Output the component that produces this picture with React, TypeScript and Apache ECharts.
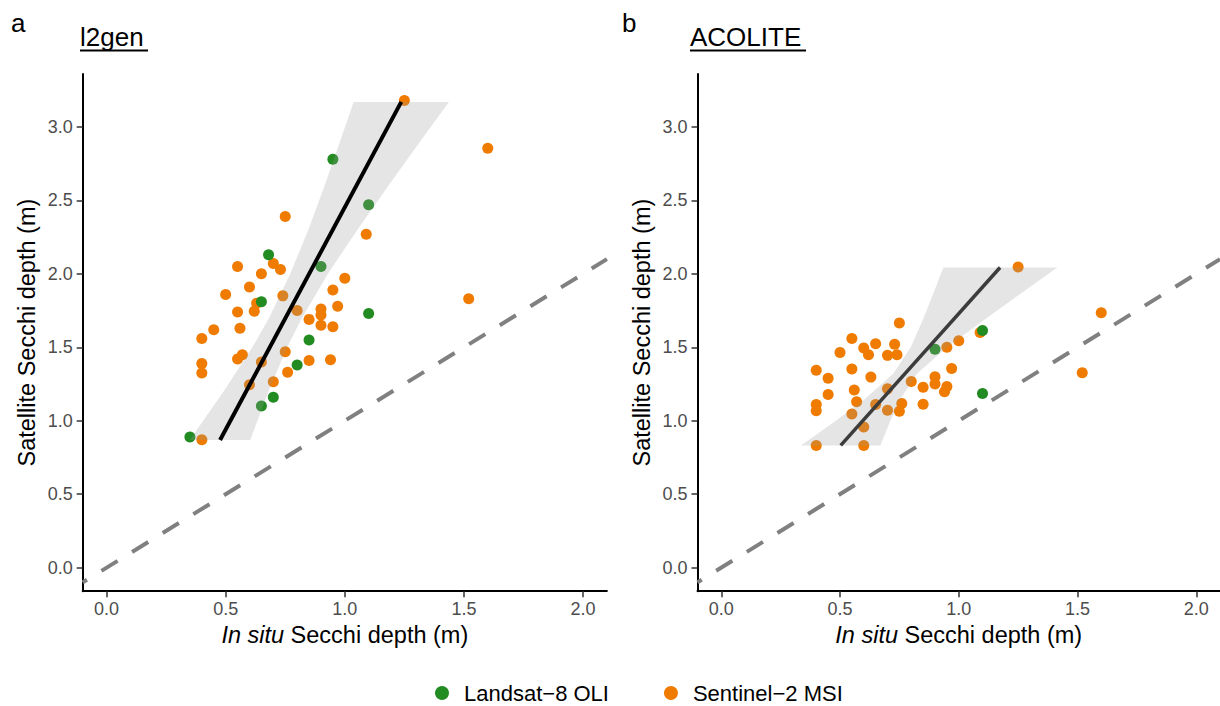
import React, { useEffect, useRef } from "react";
import * as echarts from "echarts";

const FONT = "'Liberation Sans', Arial, Helvetica, sans-serif";

// ---- axis ticks ----
const xTicks = [0, 0.5, 1.0, 1.5, 2.0];
const yTicks = [0, 0.5, 1.0, 1.5, 2.0, 2.5, 3.0];

// ---- panel a: l2gen ----
const l2genLandsatX = [0.95, 0.68, 0.90, 1.10, 0.65, 0.85, 0.80, 0.70, 0.65, 0.35, 1.10];
const l2genLandsatY = [2.78, 2.13, 2.05, 2.47, 1.81, 1.55, 1.38, 1.16, 1.10, 0.89, 1.73];
const l2genSentinelX = [0.75, 0.55, 0.70, 0.73, 0.65, 1.00, 1.25, 1.60, 1.09, 0.60, 0.50, 0.95, 0.74, 0.63, 0.62, 0.55, 0.97, 0.80, 0.90, 0.90, 0.85, 0.90, 0.95, 0.45, 0.56, 0.40, 0.75, 0.57, 0.55, 0.85, 0.94, 0.65, 0.40, 0.40, 0.76, 0.70, 0.60, 0.40, 1.52];
const l2genSentinelY = [2.39, 2.05, 2.07, 2.03, 2.00, 1.97, 3.18, 2.855, 2.27, 1.91, 1.86, 1.89, 1.85, 1.80, 1.745, 1.74, 1.78, 1.75, 1.76, 1.72, 1.69, 1.65, 1.64, 1.62, 1.63, 1.56, 1.47, 1.45, 1.42, 1.41, 1.415, 1.40, 1.39, 1.325, 1.33, 1.265, 1.245, 0.87, 1.83];
const l2genFitX = [0.4765, 1.237];
const l2genFitY = [0.869, 3.17];
const l2genBandY = [0.869, 1.2, 1.5, 1.7, 2.0, 2.3, 2.6, 2.9, 3.17];
const l2genBandLo = [0.349, 0.492, 0.612, 0.682, 0.771, 0.847, 0.915, 0.980, 1.037];
const l2genBandHi = [0.603, 0.680, 0.758, 0.820, 0.929, 1.053, 1.183, 1.316, 1.437];

// ---- panel b: ACOLITE ----
const acoLandsatX = [0.90, 1.10, 1.10];
const acoLandsatY = [1.487, 1.615, 1.185];
const acoSentinelX = [0.75, 0.55, 0.65, 0.60, 0.62, 0.73, 0.70, 0.74, 0.50, 0.95, 1.00, 0.40, 0.55, 0.45, 0.63, 0.80, 0.97, 0.90, 0.90, 0.85, 0.95, 0.94, 0.45, 0.56, 0.70, 0.40, 0.40, 0.57, 0.65, 0.76, 0.75, 0.70, 0.85, 0.55, 0.60, 0.40, 0.60, 1.25, 1.60, 1.09, 1.52];
const acoSentinelY = [1.665, 1.56, 1.524, 1.495, 1.45, 1.52, 1.445, 1.449, 1.465, 1.50, 1.545, 1.343, 1.352, 1.29, 1.297, 1.267, 1.356, 1.30, 1.25, 1.228, 1.233, 1.198, 1.178, 1.21, 1.217, 1.111, 1.068, 1.129, 1.11, 1.117, 1.065, 1.072, 1.112, 1.046, 0.957, 0.832, 0.832, 2.046, 1.735, 1.60, 1.327];
const acoFitX = [0.503, 1.174];
const acoFitY = [0.832, 2.043];
const acoBandY = [0.832, 1.0, 1.15, 1.32, 1.5, 1.7, 1.9, 2.043];
const acoBandLo = [0.336, 0.482, 0.606, 0.724, 0.798, 0.852, 0.901, 0.935];
const acoBandHi = [0.670, 0.712, 0.755, 0.824, 0.950, 1.118, 1.291, 1.415];

const oneToOne = [-0.1, 2.1];

const GREEN = "#228B22";
const ORANGE = "#EF7B00";
const LANDSAT = "Landsat\u22128 OLI";
const SENTINEL = "Sentinel\u22122 MSI";

const zip = (xs: number[], ys: number[]) => xs.map((x, i) => [x, ys[i]]);

function bandSeries(idx: number, ys: number[], lo: number[], hi: number[]) {
  return {
    type: "custom",
    xAxisIndex: idx,
    yAxisIndex: idx,
    silent: true,
    z: 3,
    data: zip(lo, ys),
    encode: { x: 0, y: 1 },
    renderItem: (params: any, api: any) => {
      if (params.dataIndex !== 0) return null;
      const pts: number[][] = [];
      for (let i = 0; i < ys.length; i++) pts.push(api.coord([lo[i], ys[i]]));
      for (let i = ys.length - 1; i >= 0; i--) pts.push(api.coord([hi[i], ys[i]]));
      return {
        type: "polygon",
        shape: { points: pts },
        style: { fill: "rgba(153,153,153,0.26)", stroke: null },
      };
    },
  };
}

function xAxisCfg(idx: number) {
  return {
    type: "value",
    gridIndex: idx,
    min: -0.1,
    max: 2.1,
    axisLine: { show: true, onZero: false, lineStyle: { color: "#000", width: 2 } },
    axisTick: { show: true, length: 6, customValues: xTicks, lineStyle: { color: "#333", width: 1.5 } },
    axisLabel: {
      customValues: xTicks,
      formatter: (v: number) => v.toFixed(1),
      fontSize: 18,
      color: "#4d4d4d",
      margin: 9,
      fontFamily: FONT,
    },
    splitLine: { show: false },
    name: "{i|In situ} Secchi depth (m)",
    nameLocation: "middle",
    nameGap: 30,
    nameTextStyle: {
      fontSize: 23.5,
      color: "#000",
      fontFamily: FONT,
      rich: { i: { fontStyle: "italic", fontSize: 23.5, color: "#000", fontFamily: FONT } },
    },
  };
}

function yAxisCfg(idx: number) {
  return {
    type: "value",
    gridIndex: idx,
    min: -0.16,
    max: 3.36,
    axisLine: { show: true, onZero: false, lineStyle: { color: "#000", width: 2 } },
    axisTick: { show: true, length: 6, customValues: yTicks, lineStyle: { color: "#333", width: 1.5 } },
    axisLabel: {
      customValues: yTicks,
      formatter: (v: number) => v.toFixed(1),
      fontSize: 18,
      color: "#4d4d4d",
      margin: 10,
      fontFamily: FONT,
    },
    splitLine: { show: false },
    name: "Satellite Secchi depth (m)",
    nameLocation: "middle",
    nameGap: 44,
    nameTextStyle: { fontSize: 23.5, color: "#000", fontFamily: FONT },
  };
}

export default function App() {
  const ref = useRef<HTMLDivElement>(null);
  useEffect(() => {
    if (!ref.current) return;
    const chart = echarts.init(ref.current, null, { renderer: "svg" });
    const dashed = (idx: number) => ({
      type: "line",
      xAxisIndex: idx,
      yAxisIndex: idx,
      data: zip(oneToOne, oneToOne),
      symbol: "none",
      silent: true,
      z: 1,
      lineStyle: { color: "#808080", width: 4, type: [19, 17], dashOffset: 14, cap: "butt" },
    });
    const scatter = (idx: number, name: string, xs: number[], ys: number[], color: string) => ({
      type: "scatter",
      name,
      xAxisIndex: idx,
      yAxisIndex: idx,
      data: zip(xs, ys),
      symbolSize: 11,
      itemStyle: { color, opacity: 1 },
      z: 2,
    });
    const fit = (idx: number, xs: number[], ys: number[], color: string, width: number) => ({
      type: "line",
      xAxisIndex: idx,
      yAxisIndex: idx,
      data: zip(xs, ys),
      symbol: "none",
      silent: true,
      z: 4,
      lineStyle: { color, width, cap: "butt" },
    });
    chart.setOption({
      animation: false,
      backgroundColor: "#fff",
      textStyle: { fontFamily: FONT },
      grid: [
        { left: 82.7, top: 74, width: 524.2, height: 517.2 },
        { left: 697.5, top: 74, width: 524.2, height: 517.2 },
      ],
      xAxis: [xAxisCfg(0), xAxisCfg(1)],
      yAxis: [yAxisCfg(0), yAxisCfg(1)],
      legend: {
        data: [
          { name: LANDSAT, icon: "circle" },
          { name: SENTINEL, icon: "circle" },
        ],
        left: 430,
        top: 677,
        itemWidth: 14,
        itemHeight: 14,
        itemGap: 55,
        selectedMode: false,
        textStyle: { fontSize: 22, color: "#000", fontFamily: FONT, padding: [0, 0, 0, 10] },
      },
      graphic: [
        { type: "text", left: 11, top: 10, style: { text: "a", font: `26px ${FONT}`, fill: "#000" } },
        { type: "text", left: 622, top: 10, style: { text: "b", font: `26px ${FONT}`, fill: "#000" } },
        { type: "text", left: 80, top: 24, style: { text: "l2gen", font: `26px ${FONT}`, fill: "#000" } },
        { type: "line", shape: { x1: 80, y1: 50.5, x2: 148, y2: 50.5 }, style: { stroke: "#000", lineWidth: 2 } },
        { type: "text", left: 690, top: 24, style: { text: "ACOLITE", font: `26px ${FONT}`, fill: "#000" } },
        { type: "line", shape: { x1: 690, y1: 50.5, x2: 806, y2: 50.5 }, style: { stroke: "#000", lineWidth: 2 } },
      ],
      series: [
        dashed(0),
        dashed(1),
        scatter(0, SENTINEL, l2genSentinelX, l2genSentinelY, ORANGE),
        scatter(0, LANDSAT, l2genLandsatX, l2genLandsatY, GREEN),
        scatter(1, SENTINEL, acoSentinelX, acoSentinelY, ORANGE),
        scatter(1, LANDSAT, acoLandsatX, acoLandsatY, GREEN),
        bandSeries(0, l2genBandY, l2genBandLo, l2genBandHi),
        bandSeries(1, acoBandY, acoBandLo, acoBandHi),
        fit(0, l2genFitX, l2genFitY, "#000", 4),
        fit(1, acoFitX, acoFitY, "#3c3c3c", 3.5),
      ],
    });
    return () => chart.dispose();
  }, []);
  return (
    <div
      ref={ref}
      style={{ position: "absolute", left: 0, top: 0, width: 1220, height: 706, background: "#fff" }}
    />
  );
}
